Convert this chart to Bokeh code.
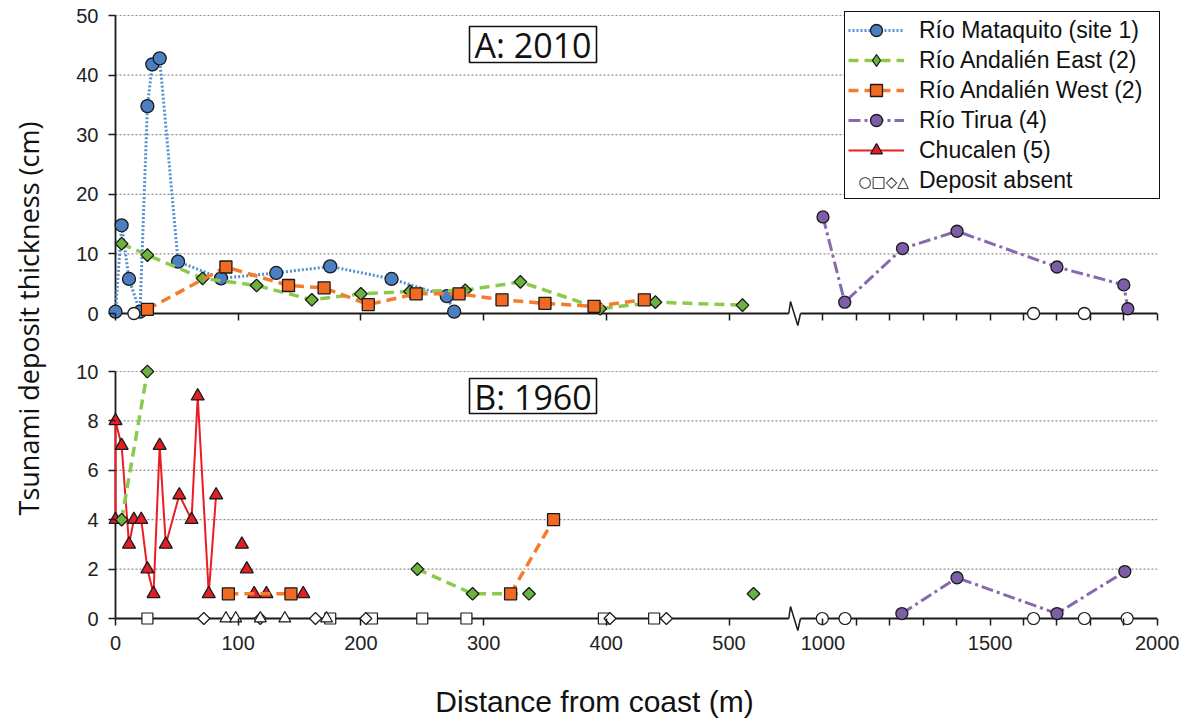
import numpy as np
from bokeh.plotting import figure
from bokeh.models import (Range1d, LinearAxis, FixedTicker, Legend, LegendItem,
                          Label, BoxAnnotation)
from bokeh.embed import file_html
from bokeh.resources import INLINE

nan = float("nan")

# ---------------- data: distance from coast (m), deposit thickness (cm) ----------------
# Panel A: 2010 tsunami
mataquito_2010_x = [0, 5, 11, 20, 26, 30, 36, 51, 86, 131, 175, 225, 270, 276]
mataquito_2010_y = [0.3, 14.8, 5.8, 0.3, 34.8, 41.8, 42.8, 8.7, 5.9, 6.8, 7.9, 5.8, 2.9, 0.3]
andalien_east_2010_x = [5, 26, 71, 115, 160, 200, 240, 285, 330, 395, 440, 511]
andalien_east_2010_y = [11.7, 9.8, 5.9, 4.7, 2.3, 3.3, 3.7, 3.9, 5.3, 0.8, 1.9, 1.4]
andalien_west_2010_x = [26, 90, 141, 170, 206, 245, 280, 315, 350, 390, 431]
andalien_west_2010_y = [0.7, 7.8, 4.7, 4.3, 1.5, 3.3, 3.3, 2.3, 1.7, 1.2, 2.3]
tirua_2010_x = [1000, 1065, 1238, 1401, 1700, 1900, 1912]
tirua_2010_y = [16.2, 1.9, 10.9, 13.8, 7.8, 4.8, 0.8]
absent_circle_2010_x = [15, 1630, 1782]

# Panel B: 1960 tsunami (nan = gap in the line)
chucalen_1960_x = [0, 0, 5, 11, 15, 21, 26, 31, 36, 41, 52, 62, 67, 76, 82]
chucalen_1960_y = [4, 8, 7, 3, 4, 4, 2, 1, 7, 3, 5, 4, 9, 1, 5]
chucalen_single_1960_x = [103, 107, 113, 123, 153]
chucalen_single_1960_y = [3, 2, 1, 1, 1]
andalien_east_1960_x = [5, 26, nan, 246, 291, 337, nan, 520]
andalien_east_1960_y = [4, 10, nan, 2, 1, 1, nan, 1]
andalien_west_1960_x = [92, 143, nan, 322, 357]
andalien_west_1960_y = [1, 1, nan, 1, 4]
tirua_1960_x = [1236, 1401, 1700, 1903]
tirua_1960_y = [0.2, 1.65, 0.2, 1.9]
absent_circle_1960_x = [998, 1066, 1630, 1782, 1910]
absent_square_1960_x = [26, 175, 209, 250, 286, 398, 439]
absent_diamond_1960_x = [72, 118, 163, 204, 403, 449]
absent_triangle_1960_x = [90, 98, 118, 138, 172]

# ticks
x_ticks_labelled = [0, 100, 200, 300, 400, 500, 1000, 1500, 2000]
x_tick_labels = ["0", "100", "200", "300", "400", "500", "1000", "1500", "2000"]
x_ticks_unlabelled = [1100, 1200, 1300, 1400, 1600, 1700, 1800, 1900]
y_ticks_2010 = [0, 10, 20, 30, 40, 50]
y_ticks_1960 = [0, 2, 4, 6, 8, 10]

legend_labels = ["Río Mataquito (site 1)", "Río Andalién East (2)", "Río Andalién West (2)",
                 "Río Tirua (4)", "Chucalen (5)", "Deposit absent"]
absent_symbols = "○□◇△"
panel_titles = ["A: 2010", "B: 1960"]
x_title = "Distance from coast (m)"
y_title = "Tsunami deposit thickness (cm)"

# ---------------- layout (page pixels; the frame covers the whole canvas) ----------------
W, H = 1200, 724
AX0_PX = 115.0          # x = 0 m
PX_PER_U = 1.227        # px per metre on the near-coast segment
A0_PY, A_TOP_PY, A_MAX = 313.0, 15.0, 50.0
B0_PY, B_TOP_PY, B_MAX = 618.0, 371.0, 10.0
RIGHT_U0, RIGHT_K = 576.6, 0.2724   # compressed segment beyond the axis break

PX_PER_A = (A0_PY - A_TOP_PY) / A_MAX
PX_PER_B = (B0_PY - B_TOP_PY) / B_MAX


def to_u(x):
    x = np.asarray(x, dtype=float)
    return np.where(x <= 700, x, RIGHT_U0 + RIGHT_K * (x - 1000.0))


def px2u(px):
    return (px - AX0_PX) / PX_PER_U


def py2a(py):
    return (A0_PY - py) / PX_PER_A


def py2b(py):
    return (B0_PY - py) / PX_PER_B


U_END = float(to_u([2000])[0])

p = figure(width=W, height=H,
           x_range=Range1d(px2u(0), px2u(W)),
           y_range=Range1d(py2a(H), py2a(0)),
           x_axis_type=None, y_axis_type=None,
           output_backend="svg", toolbar_location=None,
           min_border_left=0, min_border_right=0, min_border_top=0, min_border_bottom=0)
p.extra_y_ranges = {"B": Range1d(py2b(H), py2b(0))}
p.outline_line_color = None
p.background_fill_color = "white"
p.border_fill_color = "white"

GRID = "#8f8f8f"
AXC = "#1a1a1a"
TICK_FONT = "Liberation Sans"

# gridlines
p.segment(x0=0, x1=U_END, y0=y_ticks_2010[1:], y1=y_ticks_2010[1:],
          line_color=GRID, line_dash="2 2", line_width=1.2)
p.segment(x0=0, x1=U_END, y0=y_ticks_1960[1:], y1=y_ticks_1960[1:],
          line_color=GRID, line_dash="2 2", line_width=1.2, y_range_name="B")

# axis lines with break symbol
BRK = [px2u(788.3), px2u(790.0), px2u(797.3), px2u(800.0)]
for rname, top, pxper in (("default", A_MAX, PX_PER_A), ("B", B_MAX, PX_PER_B)):
    p.segment(x0=[0, BRK[3], 0], y0=[0, 0, 0], x1=[BRK[0], U_END, 0], y1=[0, 0, top],
              line_color=AXC, line_width=1.8, y_range_name=rname)
    z = 12.0 / pxper
    p.line(x=BRK, y=[0, z, -z, 0], line_color=AXC, line_width=1.5, y_range_name=rname)

# styles
BLUE_F, BLUE_L = "#4a7fc1", "#5590d0"
GREEN_F, GREEN_L = "#6cb33e", "#8dc94e"
ORANGE_F, ORANGE_L = "#f26a21", "#f47c2c"
PURPLE_F, PURPLE_L = "#7b5ea7", "#8769b0"
RED_F, RED_L = "#e41e25", "#ec1c24"
EDGE = "#1a1a1a"

BLUE_LINE = dict(line_color=BLUE_L, line_width=3, line_dash="2 2")
GREEN_LINE = dict(line_color=GREEN_L, line_width=3.5, line_dash="10 6")
ORANGE_LINE = dict(line_color=ORANGE_L, line_width=3.5, line_dash="10 6")
PURPLE_LINE = dict(line_color=PURPLE_L, line_width=3, line_dash="12 4 3 4")
RED_LINE = dict(line_color=RED_L, line_width=2)


def series(x, y, line_kw, marker, size, fill, rname="default", angle=0.0):
    u = to_u(x)
    yy = np.asarray(y, dtype=float)
    lr = p.line(x=u, y=yy, y_range_name=rname, **line_kw) if line_kw else None
    sr = p.scatter(x=u, y=yy, marker=marker, size=size, angle=angle,
                   fill_color=fill, line_color=EDGE, line_width=1.3, y_range_name=rname)
    return lr, sr


# ---- panel A ----
m_l, m_s = series(mataquito_2010_x, mataquito_2010_y, BLUE_LINE, "circle", 13, BLUE_F)
e_l, e_s = series(andalien_east_2010_x, andalien_east_2010_y, GREEN_LINE, "square", 9, GREEN_F,
                  angle=np.pi / 4)
w_l, w_s = series(andalien_west_2010_x, andalien_west_2010_y, ORANGE_LINE, "square", 12, ORANGE_F)
t_l, t_s = series(tirua_2010_x, tirua_2010_y, PURPLE_LINE, "circle", 12, PURPLE_F)
p.scatter(x=to_u(absent_circle_2010_x), y=[0] * len(absent_circle_2010_x), marker="circle",
          size=12, fill_color="white", line_color=EDGE, line_width=1.3)
# legend-only diamond (zero size in the plot; the legend sizes markers itself)
e_legend = p.scatter(x=to_u(andalien_east_2010_x), y=andalien_east_2010_y, marker="diamond",
                     size=0, fill_color=GREEN_F, line_color=EDGE, line_width=1.3)

# ---- panel B ----
c_l, c_s = series(chucalen_1960_x, chucalen_1960_y, RED_LINE, "triangle", 13, RED_F, rname="B")
series(chucalen_single_1960_x, chucalen_single_1960_y, None, "triangle", 13, RED_F, rname="B")
series(andalien_east_1960_x, andalien_east_1960_y, GREEN_LINE, "square", 9, GREEN_F,
       rname="B", angle=np.pi / 4)
series(andalien_west_1960_x, andalien_west_1960_y, ORANGE_LINE, "square", 12, ORANGE_F, rname="B")
series(tirua_1960_x, tirua_1960_y, PURPLE_LINE, "circle", 12, PURPLE_F, rname="B")
for xs, mk, sz, ang in ((absent_circle_1960_x, "circle", 12, 0.0),
                        (absent_square_1960_x, "square", 11, 0.0),
                        (absent_diamond_1960_x, "square", 8.5, np.pi / 4),
                        (absent_triangle_1960_x, "triangle", 12, 0.0)):
    p.scatter(x=to_u(xs), y=[0] * len(xs), marker=mk, size=sz, angle=ang,
              fill_color="white", line_color=EDGE, line_width=1.2, y_range_name="B")

# ---- axes (fixed at the data origin of each panel) ----
y_pos, y_lab = [], {}
for v in y_ticks_2010:
    t = round(float(v), 6)
    y_pos.append(t)
    y_lab[t] = str(v)
for v in y_ticks_1960:
    t = round(py2a(B0_PY - v * PX_PER_B), 6)
    y_pos.append(t)
    y_lab[t] = str(v)

yaxis = LinearAxis(ticker=FixedTicker(ticks=y_pos, minor_ticks=[]), major_label_overrides=y_lab,
                   fixed_location=0, axis_line_color=None, major_tick_out=7, major_tick_in=0,
                   major_tick_line_color=AXC, major_tick_line_width=1.5, minor_tick_line_color=None,
                   major_label_standoff=10, major_label_text_font=TICK_FONT,
                   major_label_text_font_size="20px", major_label_text_color="#222222")
p.add_layout(yaxis, "left")

x_major = [round(float(u), 6) for u in to_u(x_ticks_labelled)]
x_minor = [round(float(u), 6) for u in to_u(x_ticks_unlabelled)]
x_lab = {u: s for u, s in zip(x_major, x_tick_labels)}
tick_style = dict(axis_line_color=None, major_tick_out=7, major_tick_in=0,
                  minor_tick_out=7, minor_tick_in=0,
                  major_tick_line_color=AXC, major_tick_line_width=1.5,
                  minor_tick_line_color=AXC, minor_tick_line_width=1.5, fixed_location=0)
xaxis_b = LinearAxis(y_range_name="B", ticker=FixedTicker(ticks=x_major, minor_ticks=x_minor),
                     major_label_overrides=x_lab, major_label_standoff=10,
                     major_label_text_font=TICK_FONT, major_label_text_font_size="20px",
                     major_label_text_color="#222222", **tick_style)
xaxis_a = LinearAxis(ticker=FixedTicker(ticks=[], minor_ticks=x_major + x_minor), **tick_style)
p.add_layout(xaxis_b, "below")
p.add_layout(xaxis_a, "below")

# ---- legend ----
PAD, ROW, SP = 3, 30, 0
LEG_L, LEG_T = 844, 13
GW, STANDOFF, LW = 56, 15, 237
leg_h = 2 * PAD + 6 * ROW + 5 * SP
leg_w = 2 * PAD + GW + STANDOFF + LW
# white backing for the legend box (legend itself is transparent so the symbols show)
p.add_layout(BoxAnnotation(left=px2u(LEG_L), right=px2u(LEG_L + leg_w),
                           top=py2a(LEG_T), bottom=py2a(LEG_T + leg_h),
                           fill_color="white", fill_alpha=1.0, line_alpha=0.0))
dummy_absent = p.scatter(x=[], y=[], marker="circle", size=1, fill_alpha=0, line_alpha=0)
legend = Legend(items=[LegendItem(label=legend_labels[0], renderers=[m_l, m_s]),
                       LegendItem(label=legend_labels[1], renderers=[e_l, e_legend]),
                       LegendItem(label=legend_labels[2], renderers=[w_l, w_s]),
                       LegendItem(label=legend_labels[3], renderers=[t_l, t_s]),
                       LegendItem(label=legend_labels[4], renderers=[c_l, c_s]),
                       LegendItem(label=legend_labels[5], renderers=[dummy_absent])],
                location=(LEG_L, H - (LEG_T + leg_h)), orientation="vertical",
                padding=PAD, spacing=SP, margin=0, glyph_width=GW, glyph_height=ROW,
                label_height=ROW, label_width=LW, label_standoff=STANDOFF,
                label_text_font="Liberation Sans", label_text_font_size="23px",
                label_text_color="#111111",
                border_line_color="#111111", border_line_width=1.6, border_line_alpha=1.0,
                background_fill_alpha=0.0)
p.add_layout(legend)
p.add_layout(Label(x=px2u(858), y=py2a(LEG_T + PAD + 5.5 * ROW + 5 * SP), text=absent_symbols,
                   text_font="DejaVu Sans", text_font_size="15px", text_align="left",
                   text_baseline="middle", text_color="#111111", level="overlay"))

# ---- panel tags ----
for title, top, bot, mid in ((panel_titles[0], 26, 62, 44.5), (panel_titles[1], 378, 413, 396.5)):
    p.add_layout(BoxAnnotation(left=px2u(469), right=px2u(596), top=py2a(top), bottom=py2a(bot),
                               fill_color="white", fill_alpha=1.0, line_color="#111111",
                               line_alpha=1.0, line_width=1.6))
    p.add_layout(Label(x=px2u(532.5), y=py2a(mid), text=title, text_font="Open Sans",
                       text_font_size="34px", text_align="center", text_baseline="middle",
                       text_color="#111111", level="overlay"))

# ---- axis titles ----
p.add_layout(Label(x=px2u(594), y=py2a(701), text=x_title, text_font="Liberation Sans",
                   text_font_size="30px", text_align="center", text_baseline="middle",
                   text_color="#111111"))
p.add_layout(Label(x=px2u(28), y=py2a(318), text=y_title, text_font="Open Sans",
                   text_font_size="27px", text_align="center", text_baseline="middle",
                   angle=np.pi / 2, text_color="#111111"))

open("out.html", "w").write(file_html(p, INLINE))
